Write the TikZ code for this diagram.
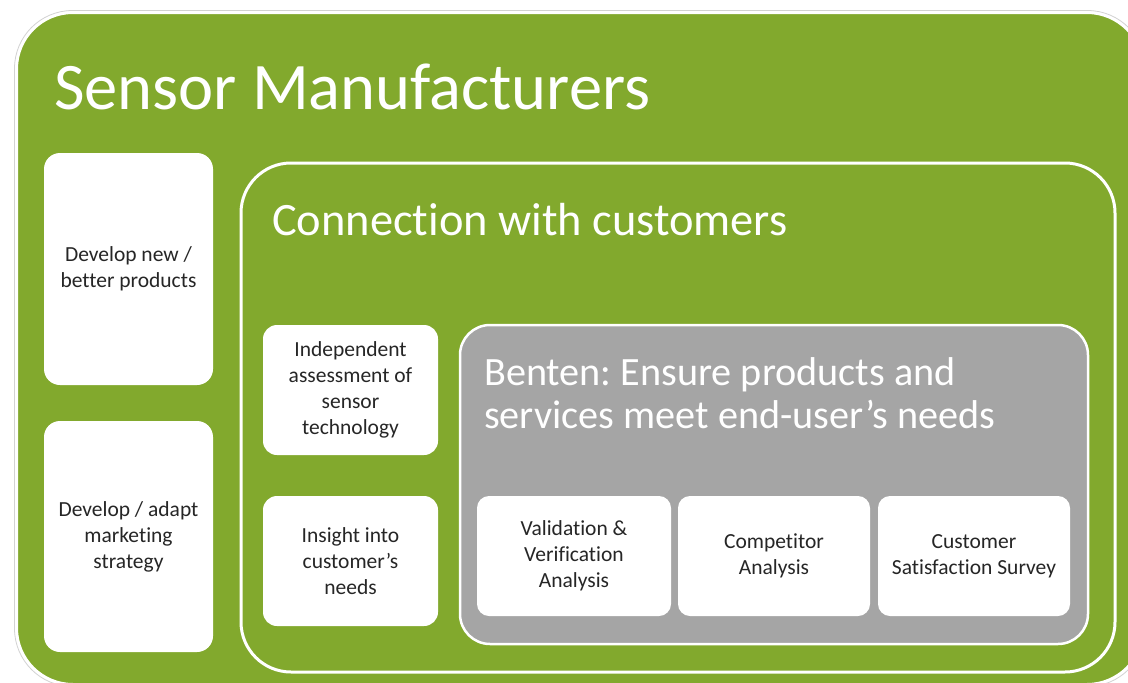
\documentclass[tikz,border=0pt]{standalone}
\usepackage{fontspec}
\setmainfont{Carlito}[Ligatures=NoCommon]
\frenchspacing
\definecolor{smGreen}{HTML}{82A92D}
\definecolor{bentenGray}{HTML}{A5A5A5}
\definecolor{boxText}{HTML}{262626}
\begin{document}
\begin{tikzpicture}[x=1pt, y=-1pt,
    outerStyle/.style={rectangle, rounded corners=56pt, fill=smGreen, draw=white, line width=2pt, inner sep=0pt, minimum width=1126pt, minimum height=671pt},
    connStyle/.style={rectangle, rounded corners=50pt, draw=white, line width=3pt, inner sep=0pt, minimum width=874pt, minimum height=509pt},
    bentenStyle/.style={rectangle, rounded corners=30pt, fill=bentenGray, draw=white, line width=2.5pt, inner sep=0pt, minimum width=628pt, minimum height=319pt},
    boxStyle/.style={rectangle, rounded corners=16pt, fill=white, inner sep=0pt, align=center, text=boxText, font=\fontsize{21.5}{26}\selectfont},
    titleStyle/.style={anchor=base west, inner sep=0pt, text=white, align=left}]
    \useasboundingbox (0,0) rectangle (1128,683);
    \clip (0,0) rectangle (1128,683);
    \fill[white] (0,0) rectangle (1128,683);

    % outer frame
    \draw[gray!35, line width=0.8pt, rounded corners=58pt] (14.5,10.5) rectangle (1145.5,686.5);
    \node[outerStyle](outer) at (580, 348.5) {};
    \node[titleStyle, font=\fontsize{66.5}{70}\selectfont](title) at (54, 109) {Sensor Manufacturers};

    \node[boxStyle, minimum width=169pt, minimum height=232pt](develop) at (128.5, 269) {Develop new /\\better products};
    \node[boxStyle, minimum width=169pt, minimum height=231pt](marketing) at (128.5, 536.5) {Develop / adapt\\marketing\\strategy};

    % connection with customers
    \node[connStyle](conn) at (678, 417.5) {};
    \node[titleStyle, font=\fontsize{46.4}{50}\selectfont](connTitle) at (272, 235) {Connection with customers};

    \node[boxStyle, rounded corners=14pt, minimum width=175pt, minimum height=130pt](assess) at (350.5, 390) {Independent\\assessment of\\sensor\\technology};
    \node[boxStyle, rounded corners=14pt, minimum width=175pt, minimum height=130pt](insight) at (350.5, 561) {Insight into\\customer’s\\needs};

    % benten
    \node[bentenStyle](benten) at (774, 484.5) {};
    \node[titleStyle, font=\fontsize{40.2}{43}\selectfont](bentenTitle) at (484, 428) {Benten: Ensure products and\\services meet end-user’s needs};

    \node[boxStyle, rounded corners=12pt, minimum width=194pt, minimum height=120pt](valid) at (574, 556) {Validation \&\\Verification\\Analysis};
    \node[boxStyle, rounded corners=12pt, minimum width=192pt, minimum height=120pt](compet) at (774, 556) {Competitor\\Analysis};
    \node[boxStyle, rounded corners=12pt, minimum width=192pt, minimum height=120pt](survey) at (974, 556) {Customer\\Satisfaction Survey};
\end{tikzpicture}
\end{document}
